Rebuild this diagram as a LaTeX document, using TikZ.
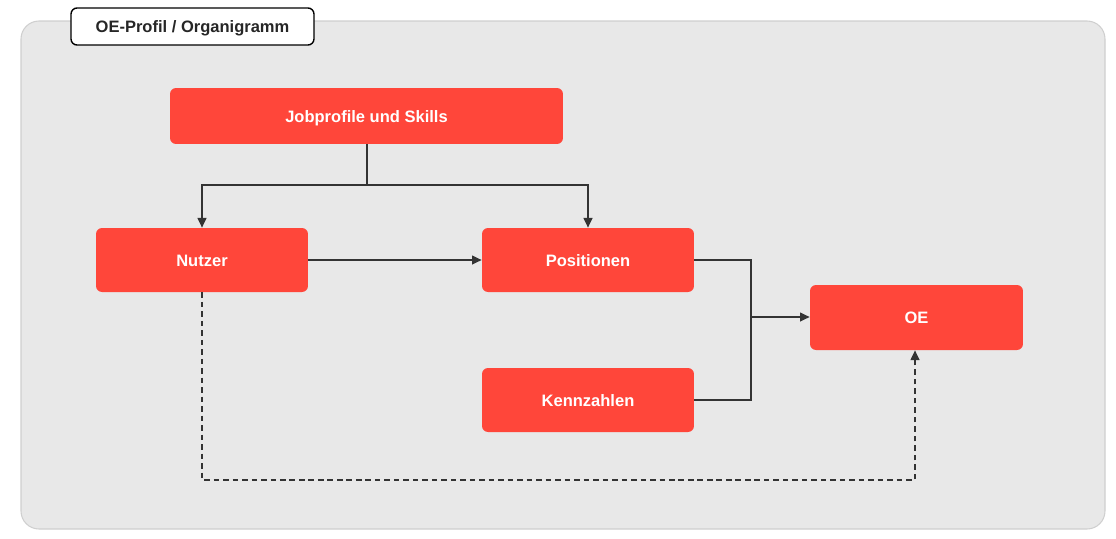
\documentclass[tikz,border=0pt]{standalone}
\usepackage{fontspec}
\setmainfont{Liberation Sans}
\usetikzlibrary{arrows.meta}
\definecolor{boxred}{HTML}{FF463A}
\definecolor{panel}{HTML}{E8E8E8}
\definecolor{panelline}{HTML}{CFCFCF}
\definecolor{wire}{HTML}{333333}
\begin{document}
\begin{tikzpicture}[x=0.02cm,y=-0.02cm,>={Triangle[length=5.5pt,width=5pt]},
			every node/.style={rounded corners=0.12cm,inner sep=0,text height=1.45ex,text depth=0.15ex,
				font=\fontsize{9.4}{11}\selectfont\bfseries},
			box/.style={fill=boxred,text=white,minimum width=4.24cm,minimum height=1.28cm},
			wire/.style={draw=wire,line width=0.9pt}]
			\useasboundingbox (0,0) rectangle (1116,538);
			\draw[fill=panel,draw=panelline,line width=0.6pt,rounded corners=0.36cm] (21,21) rectangle (1105,529);
			\node[draw=black,fill=white,line width=0.8pt,minimum width=4.86cm,minimum height=0.74cm,text=black!85] (title) at (192.5,26.5) {OE-Profil / Organigramm};
			\node[box,minimum width=7.86cm,minimum height=1.12cm] (job) at (366.5,116) {Jobprofile und Skills};
			\node[box] (nutzer) at (202,260) {Nutzer};
			\node[box] (pos) at (588,260) {Positionen};
			\node[box] (kenn) at (588,400) {Kennzahlen};
			\node[box,minimum width=4.26cm,minimum height=1.3cm] (oe) at (916.5,317.5) {OE};
			\coordinate (split) at (367,185);
			\coordinate (join) at (751,317);
			\coordinate (loop) at (915,480);
			\draw[wire] (job.south -| split) -- (split);
			\draw[wire,->] (split) -| (nutzer.north);
			\draw[wire,->] (split) -| (pos.north);
			\draw[wire,->] (nutzer) -- (pos);
			\draw[wire] (pos.east) -| (join);
			\draw[wire] (kenn.east) -| (join);
			\draw[wire,->] (join) -- (oe.west |- join);
			\draw[wire,->,dash pattern=on 3.2pt off 2.2pt] (nutzer.south) |- (loop) -- (oe.south -| loop);
		\end{tikzpicture}
\end{document}
